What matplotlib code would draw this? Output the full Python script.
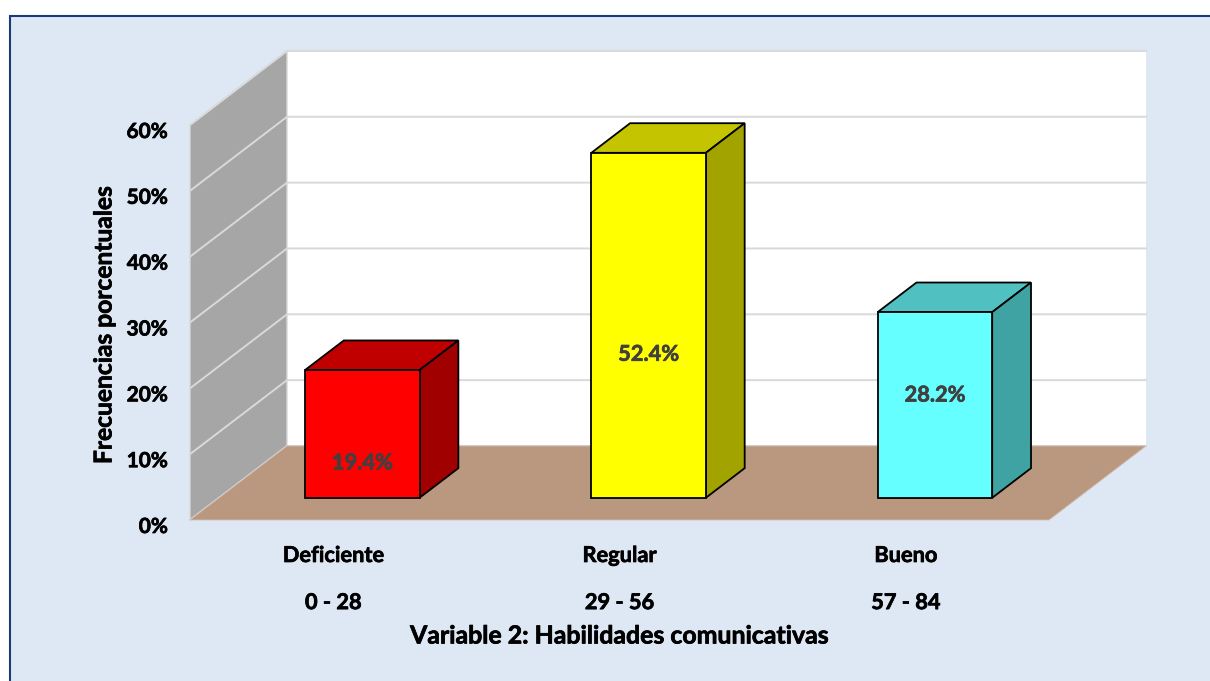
import matplotlib
matplotlib.use("Agg")
import matplotlib.pyplot as plt
import matplotlib.patheffects as pe
from matplotlib.patches import Rectangle
from matplotlib.transforms import ScaledTranslation

# Data
categories = ["Deficiente", "Regular", "Bueno"]
ranges = ["0 - 28", "29 - 56", "57 - 84"]
values = [19.4, 52.4, 28.2]
y_ticks = [0, 10, 20, 30, 40, 50, 60]

front_colors = ["#FF0000", "#FFFF00", "#66FFFF"]
top_colors = ["#C00000", "#C4C400", "#50C0C0"]
side_colors = ["#A00000", "#A3A300", "#40A3A3"]

# Labels Were Moved by Hand in the Original (Percent Units from Bar Middle)
label_offsets = [-4.4, -4.4, 1.5]

W, H = 1210, 681

# Depth Shift of the Chart Box, in Data Units
DEPTH_X = 97 / 286.3
DEPTH_Y = 74 / 6.58
BAR_WIDTH = 0.40
BAR_FRONT = 0.30
BAR_BACK = 0.70

X_MIN, X_MAX = -0.5, 2.5
Y_MIN, Y_MAX = 0, 60


# Function to Shift a Point Backwards into the Chart Box
def project(x, y, depth):
    return x + DEPTH_X * depth, y + DEPTH_Y * depth


# Function to Fill a Polygon Given in (x, y, depth) Points
def fill_face(ax, points, **kwargs):
    xs, ys = zip(*[project(*p) for p in points])
    ax.fill(xs, ys, clip_on=False, **kwargs)


# Function to Thicken a Text a Little, Lato Bold Is Lighter than the Original
def thicken(text, color="black"):
    text.set_path_effects([pe.withStroke(linewidth=0.5, foreground=color)])


plt.rcParams["font.family"] = ["Lato", "DejaVu Sans"]
fig = plt.figure(figsize=(W / 100, H / 100), dpi=100, facecolor="white")

# Outer Panel
fig.add_artist(Rectangle((10 / W, -0.02), (W + 40) / W, 1 - 15.5 / H + 0.02,
                         transform=fig.transFigure, facecolor="#DDE8F4",
                         edgecolor="#1B3A7A", linewidth=1.5, zorder=-1))

# The Axes Cover the Front Plane of the 3D Box
ax = fig.add_axes([190 / W, 1 - 520 / H, 859 / W, 395 / H])
ax.set_xlim(X_MIN, X_MAX)
ax.set_ylim(Y_MIN, Y_MAX)
ax.patch.set_visible(False)
for spine in ax.spines.values():
    spine.set_visible(False)

# Back Wall, Side Wall and Floor
fill_face(ax, [(X_MIN, 0, 1), (X_MAX, 0, 1), (X_MAX, 60, 1), (X_MIN, 60, 1)],
          facecolor="white", edgecolor="none", zorder=1)
fill_face(ax, [(X_MIN, 0, 0), (X_MIN, 0, 1), (X_MIN, 60, 1), (X_MIN, 60, 0)],
          facecolor="#A6A6A6", edgecolor="#D9D9D9", linewidth=1, zorder=1)
fill_face(ax, [(X_MIN, 0, 0), (X_MAX, 0, 0), (X_MAX, 0, 1), (X_MIN, 0, 1)],
          facecolor="#BA9880", edgecolor="#D0BCB0", linewidth=0.6, zorder=2)

# Gridlines Run Along the Side Wall and the Back Wall
for t in y_ticks:
    x0, y0 = project(X_MIN, t, 0)
    x1, y1 = project(X_MIN, t, 1)
    x2, y2 = project(X_MAX, t, 1)
    ax.plot([x0, x1, x2], [y0, y1, y2], color="#D9D9D9", linewidth=1.4,
            clip_on=False, zorder=1.5, solid_joinstyle="miter")

# Bars
xpos = list(range(len(values)))
fx, fy = project(0, 0, BAR_FRONT)
ax.bar([x + fx for x in xpos], values, width=BAR_WIDTH, bottom=fy,
       color=front_colors, edgecolor="black", linewidth=1.3, zorder=4)

for x, v, off, top_c, side_c in zip(xpos, values, label_offsets, top_colors, side_colors):
    left = x - BAR_WIDTH / 2
    right = x + BAR_WIDTH / 2
    fill_face(ax, [(left, v, BAR_FRONT), (right, v, BAR_FRONT),
                   (right, v, BAR_BACK), (left, v, BAR_BACK)],
              facecolor=top_c, edgecolor="black", linewidth=1.3, zorder=3)
    fill_face(ax, [(right, 0, BAR_FRONT), (right, 0, BAR_BACK),
                   (right, v, BAR_BACK), (right, v, BAR_FRONT)],
              facecolor=side_c, edgecolor="black", linewidth=1.3, zorder=3)
    lx, ly = project(x, v / 2 + off, BAR_FRONT)
    label = ax.text(lx, ly, f"{v:.1f}%", ha="center", va="center", fontsize=15.7,
                    fontweight="bold", color="#404040", zorder=5)
    thicken(label, "#404040")

# Ticks and Axis Titles
ax.set_yticks(y_ticks)
ax.set_yticklabels([f"{t}%" for t in y_ticks], fontsize=15, fontweight="bold")
ax.set_xticks(xpos)
ax.set_xticklabels([f"{c}\n\n{r}" for c, r in zip(categories, ranges)],
                   fontsize=15.7, fontweight="bold", linespacing=1.15)
ax.tick_params(axis="y", length=0, pad=16)
ax.tick_params(axis="x", length=0, pad=18)
shift = ScaledTranslation(0, -5 / 100, fig.dpi_scale_trans)
for lbl in ax.get_yticklabels():
    lbl.set_transform(lbl.get_transform() + shift)
    thicken(lbl)
for lbl in ax.get_xticklabels():
    thicken(lbl)

ax.set_xlabel("Variable 2: Habilidades comunicativas", fontsize=17.9,
              fontweight="bold", va="center")
ax.xaxis.set_label_coords(0.5, -(636 - 520) / 395)
ax.set_ylabel("Frecuencias porcentuales", fontsize=17.7, fontweight="bold",
              va="center")
ax.yaxis.set_label_coords((104 - 190) / 859, (520 - 325) / 395)
thicken(ax.xaxis.label)
thicken(ax.yaxis.label)

fig.savefig("out.png", dpi=100)
